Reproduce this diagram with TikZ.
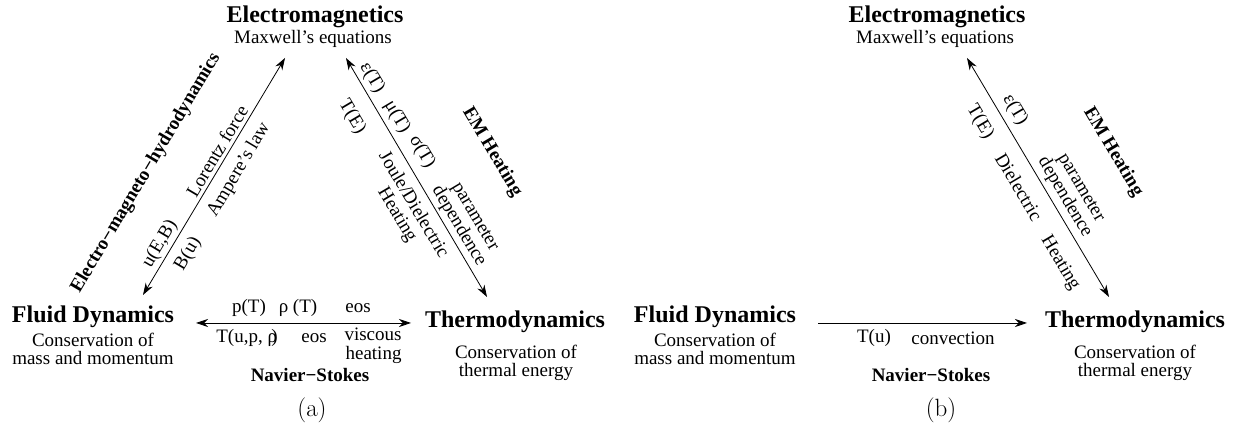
\documentclass[tikz,border=0pt]{standalone}
\usepackage{fontspec}
\newfontfamily\tnr[Ligatures=TeX]{Liberation Serif}
\usetikzlibrary{arrows.meta}
\tikzset{
  ttl/.style={font=\tnr\bfseries\fontsize{24}{28}\selectfont, inner sep=0pt},
  txt/.style={font=\tnr\fontsize{19}{19}\selectfont, inner sep=0pt, align=center},
  btxt/.style={font=\tnr\bfseries\fontsize{19}{19}\selectfont, inner sep=0pt},
  figcap/.style={font=\fontsize{25}{30}\selectfont, inner sep=0pt},
  rotup/.style={rotate=59.3},
  rotdn/.style={rotate=-59.3},
  twohead/.style={line width=0.8pt, {Stealth[length=12pt,width=8pt]}-{Stealth[length=12pt,width=8pt]}},
  onehead/.style={line width=0.8pt, -{Stealth[length=12pt,width=8pt]}},
}
\begin{document}
\begin{tikzpicture}[x=1pt,y=1pt]
\useasboundingbox (0,0) rectangle (1234,435);
% ---------------- (a) ----------------
\node[ttl] (EMa) at (315,418) {Electromagnetics};
\node[txt] (EMas) at (313,396) {Maxwell’s equations};
\node[ttl] (FDa) at (93,118) {Fluid Dynamics};
\node[txt] (FDas1) at (93,95) {Conservation of};
\node[txt] (FDas2) at (93,77) {mass and momentum};
\node[ttl] (TDa) at (515,113) {Thermodynamics};
\node[txt] (TDas1) at (516,83) {Conservation of};
\node[txt] (TDas2) at (516,63) {thermal energy};
\coordinate (L1t) at (285,377);
\coordinate (L1b) at (143,140);
\coordinate (R1t) at (346,377);
\coordinate (R1b) at (487,138);
\coordinate (H1l) at (196,112);
\coordinate (H1r) at (411,112);
\draw[twohead] (L1b) -- (L1t);
\draw[twohead] (R1t) -- (R1b);
\draw[twohead] (H1l) -- (H1r);
\node[txt,rotup] (uEB) at (160,191) {u(E,B)};
\node[txt,rotup] (Bu) at (188,181) {B(u)};
\node[txt,rotup] (lor) at (217,284) {Lorentz force};
\node[txt,rotup] (amp) at (239,265) {Ampere’s law};
\node[btxt,rotup] (emhd) at (146,262) {Electro−magneto−hydrodynamics};
\node[txt,rotdn] (epsa) at (372,357) {ε(T)};
\node[txt,rotdn] (mua) at (397,318) {μ(T)};
\node[txt,rotdn] (siga) at (422,283) {σ(T)};
\node[txt,rotdn] (TEa) at (352,318) {T(E)};
\node[txt,rotdn] (jda) at (405,225) {Joule/Dielectric\\Heating};
\node[txt,rotdn] (pda) at (466,213) {parameter\\dependence};
\node[btxt,rotdn] (emha) at (492,283) {EM Heating};
\node[txt] (pT) at (249,127) {p(T)};
\node[txt] (rT) at (298,127) {ρ (T)};
\node[txt] (eos1) at (358,127) {eos};
\node[txt] (Tup) at (247,97) {T(u,p, ρ\kern-0.3em)};
\node[txt] (eos2) at (314,97) {eos};
\node[txt,align=right] (visc) at (373,89) {viscous\\heating};
\node[btxt] (NSa) at (310,60) {Navier−Stokes};
\node[figcap] (capa) at (312,25) {(a)};
% ---------------- (b) ----------------
\node[ttl] (EMb) at (937,418) {Electromagnetics};
\node[txt] (EMbs) at (935,396) {Maxwell’s equations};
\node[ttl] (FDb) at (715,118) {Fluid Dynamics};
\node[txt] (FDbs1) at (715,95) {Conservation of};
\node[txt] (FDbs2) at (715,77) {mass and momentum};
\node[ttl] (TDb) at (1135,113) {Thermodynamics};
\node[txt] (TDbs1) at (1135,83) {Conservation of};
\node[txt] (TDbs2) at (1135,63) {thermal energy};
\coordinate (R2t) at (967,377);
\coordinate (R2b) at (1109,138);
\coordinate (H2l) at (818,112);
\coordinate (H2r) at (1027,112);
\draw[twohead] (R2t) -- (R2b);
\draw[onehead] (H2l) -- (H2r);
\node[txt,rotdn] (epsb) at (1015,325) {ε(T)};
\node[txt,rotdn] (TEb) at (980,313) {T(E)};
\node[txt,rotdn] (dieb) at (1019,248) {Dielectric};
\node[txt,rotdn] (pdb) at (1072,242) {parameter\\dependence};
\node[txt,rotdn] (heb) at (1060,172) {Heating};
\node[btxt,rotdn] (emhb) at (1113,283) {EM Heating};
\node[txt] (Tu) at (874,97) {T(u)};
\node[txt] (conv) at (953,97) {convection};
\node[btxt] (NSb) at (931,60) {Navier−Stokes};
\node[figcap] (capb) at (941,25) {(b)};
\end{tikzpicture}
\end{document}
